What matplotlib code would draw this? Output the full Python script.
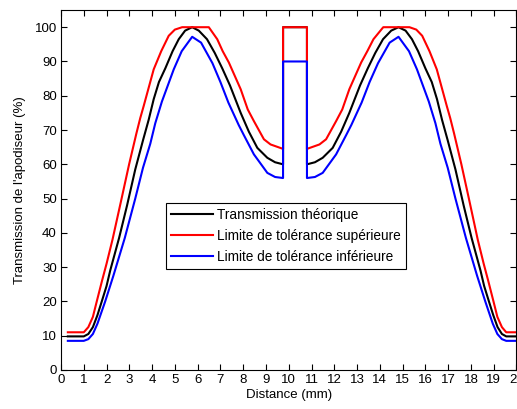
import matplotlib
matplotlib.use("Agg")
import matplotlib.pyplot as plt

plt.rcParams['font.family'] = ['Liberation Sans', 'DejaVu Sans']

# Theoretical transmission (black)
black_left_x = [0.3, 1.0, 1.2, 1.4, 1.6, 1.79, 2.0, 2.16, 2.55, 2.9, 3.26, 3.6, 3.85, 4.07, 4.3, 4.58, 4.9, 5.17, 5.45, 5.76, 6.05, 6.41, 6.75, 7.08, 7.42, 7.89, 8.25, 8.62, 9.06, 9.4, 9.75]
black_left_y = [9.8, 9.8, 10.5, 12.5, 16, 20, 24.5, 29, 38.5, 48, 58.5, 67, 73, 79, 84, 88, 93, 96.5, 99, 100, 99, 96.5, 92.5, 88, 83, 75, 69.5, 64.8, 61.9, 60.6, 60]
black_spike_x = [9.75, 10.8]
black_spike_y = [100, 100]
black_right_x = [10.8, 11.15, 11.49, 11.93, 12.3, 12.66, 13.13, 13.47, 13.8, 14.14, 14.5, 14.82, 15.13, 15.41, 15.68, 16.0, 16.28, 16.51, 16.73, 16.98, 17.32, 17.68, 18.03, 18.42, 18.58, 18.79, 18.98, 19.17, 19.36, 19.55, 20.25]
black_right_y = [60, 60.6, 61.9, 64.8, 69.5, 75, 83, 88, 92.5, 96.5, 99, 100, 99, 96.5, 93, 88, 84, 79, 73, 67, 58.5, 48, 38.5, 29, 24.5, 20, 16, 12.5, 10.5, 9.8, 9.8]

# Upper tolerance (red)
red_left_x = [0.3, 1.0, 1.2, 1.4, 1.57, 1.8, 2.0, 2.26, 2.66, 2.99, 3.31, 3.48, 3.63, 4.07, 4.4, 4.73, 5.0, 5.32, 6.49, 6.86, 7.1, 7.37, 7.89, 8.2, 8.47, 8.91, 9.2, 9.75]
red_left_y = [11, 11, 12.5, 15.5, 20, 26, 31, 38, 50, 60, 69, 73.5, 77, 87.7, 93, 97.5, 99.3, 100, 100, 96.5, 93, 89.7, 81.9, 76, 72.6, 67.3, 65.8, 64.5]
red_spike_x = [9.75, 10.8]
red_spike_y = [100, 100]
red_right_x = [10.8, 11.35, 11.64, 12.08, 12.35, 12.66, 13.18, 13.45, 13.72, 14.15, 15.3, 15.6, 15.86, 16.18, 16.5, 16.94, 17.09, 17.26, 17.58, 17.91, 18.3, 18.56, 18.76, 18.99, 19.16, 19.36, 19.55, 20.25]
red_right_y = [64.5, 65.8, 67.3, 72.6, 76, 81.9, 89.7, 93, 96.5, 100, 100, 99.3, 97.5, 93, 87.7, 77, 73.5, 69, 60, 50, 38, 31, 26, 20, 15.5, 12.5, 11, 11]

# Lower tolerance (blue)
blue_left_x = [0.3, 1.0, 1.2, 1.4, 1.6, 1.94, 2.3, 2.8, 3.26, 3.6, 3.92, 4.14, 4.43, 4.95, 5.3, 5.76, 6.15, 6.65, 7.0, 7.35, 7.8, 8.03, 8.47, 9.06, 9.4, 9.75]
blue_left_y = [8.5, 8.5, 9, 10.5, 13.5, 20, 27.5, 38.5, 50, 59, 66, 72, 78.3, 87.7, 93, 97.2, 95.5, 89.5, 84, 78, 71.5, 68.5, 62.9, 57.5, 56.3, 56]
blue_spike_x = [9.75, 10.8]
blue_spike_y = [90, 90]
blue_right_x = [10.8, 11.15, 11.49, 12.08, 12.52, 12.75, 13.2, 13.55, 13.92, 14.43, 14.82, 15.28, 15.63, 16.15, 16.44, 16.66, 16.98, 17.32, 17.78, 18.27, 18.63, 18.96, 19.16, 19.36, 19.55, 20.25]
blue_right_y = [56, 56.3, 57.5, 62.9, 68.5, 71.5, 78, 84, 89.5, 95.5, 97.2, 93, 87.7, 78.3, 72, 66, 59, 50, 38.5, 27.5, 20, 13.5, 10.5, 9, 8.5, 8.5]

labels = ["Transmission théorique",
          "Limite de tolérance supérieure",
          "Limite de tolérance inférieure"]
colors = ["black", "red", "blue"]

x_ticks = list(range(0, 21))
y_ticks = list(range(0, 101, 10))

fig = plt.figure(figsize=(5.17, 4.09), dpi=100)
ax = fig.add_axes([0.118, 0.0954, 0.881, 0.880])

series = [
    (black_left_x + black_spike_x + black_right_x, black_left_y + black_spike_y + black_right_y),
    (red_left_x + red_spike_x + red_right_x, red_left_y + red_spike_y + red_right_y),
    (blue_left_x + blue_spike_x + blue_right_x, blue_left_y + blue_spike_y + blue_right_y),
]
for (xs, ys), c, lab in zip(series, colors, labels):
    ax.plot(xs, ys, color=c, lw=1.5, label=lab)

ax.set_xlim(0, 20)
ax.set_ylim(0, 105)
ax.set_xticks(x_ticks)
ax.set_yticks(y_ticks)
ax.tick_params(direction='in', top=True, right=True, labelsize=9.5, length=4, width=0.8, pad=3)
for s in ax.spines.values():
    s.set_linewidth(0.8)
ax.set_xlabel("Distance (mm)", fontsize=9.5, labelpad=2)
ax.set_ylabel("Transmission de l'apodiseur (%)", fontsize=9.5, labelpad=6)

leg = ax.legend(loc='upper left', bbox_to_anchor=(0.23, 0.465), fontsize=9.8,
                fancybox=False, edgecolor='black', framealpha=1,
                handlelength=3.1, handletextpad=0.25, labelspacing=0.5,
                borderpad=0.4, borderaxespad=0)
leg.get_frame().set_linewidth(0.8)

fig.savefig("out.png", dpi=100)
